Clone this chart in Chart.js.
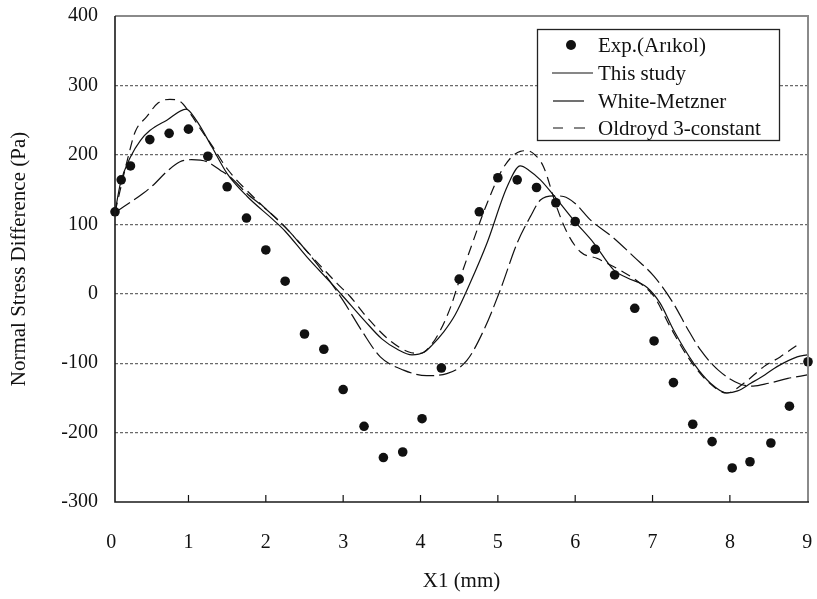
<!DOCTYPE html>
<html><head><meta charset="utf-8">
<script src="https://cdn.jsdelivr.net/npm/chart.js@4"></script>
<style>html,body{margin:0;padding:0;background:#fff}#wrap{width:817px;height:599px}</style>
</head><body><div id="wrap"><canvas id="c" width="817" height="599"></canvas></div>
<script>
// ---- data ----
const xTickValues = [0, 1, 2, 3, 4, 5, 6, 7, 8, 9];
const yTickMin = -300, yTickMax = 400, yTickStep = 100;
const xTitle = 'X1 (mm)';
const yTitle = 'Normal Stress Difference (Pa)';
const legendLabels = ['Exp.(Arıkol)', 'This study', 'White-Metzner', 'Oldroyd 3-constant'];

const expX = [0.05, 0.13, 0.25, 0.5, 0.75, 1.0, 1.25, 1.5, 1.75, 2.0, 2.25, 2.5, 2.75, 3.0, 3.27, 3.52, 3.77, 4.02, 4.27, 4.5, 4.76, 5.0, 5.25, 5.5, 5.75, 6.0, 6.26, 6.51, 6.77, 7.02, 7.27, 7.52, 7.77, 8.03, 8.26, 8.53, 8.77, 9.01];
const expY = [118, 164, 184, 222, 231, 237, 198, 154, 109, 63, 18, -58, -80, -138, -191, -236, -228, -180, -107, 21, 118, 167, 164, 153, 131, 104, 64, 27, -21, -68, -128, -188, -213, -251, -242, -215, -162, -98];

const studyX = [0.05, 0.12, 0.25, 0.38, 0.5, 0.72, 0.97, 1.1, 1.3, 1.5, 1.76, 2.1, 2.25, 2.53, 2.83, 3.0, 3.27, 3.5, 3.7, 3.89, 4.05, 4.15, 4.3, 4.45, 4.64, 4.86, 5.12, 5.29, 5.4, 5.55, 5.72, 5.98, 6.24, 6.5, 6.67, 6.93, 7.1, 7.27, 7.53, 7.75, 7.96, 8.1, 8.27, 8.45, 8.61, 8.87, 9.0];
const studyY = [117, 159, 197, 221, 235, 250, 266, 250, 212, 173, 140, 106, 90, 53, 17, -4, -38, -65, -80, -88, -84, -74, -55, -30, 15, 73, 154, 184, 178, 164, 142, 106, 73, 34, 23, 9, -14, -52, -100, -129, -143, -140, -129, -117, -105, -91, -88];

const wmX = [0.05, 0.2, 0.42, 0.55, 0.72, 0.89, 1.04, 1.24, 1.41, 1.54, 1.75, 2.0, 2.25, 2.5, 2.75, 3.0, 3.25, 3.48, 3.78, 4.08, 4.34, 4.6, 4.82, 5.03, 5.25, 5.42, 5.55, 5.72, 5.85, 6.0, 6.2, 6.5, 6.76, 7.02, 7.27, 7.45, 7.62, 7.85, 8.13, 8.3, 8.5, 8.75, 9.0];
const wmY = [117, 128, 145, 157, 176, 190, 193, 190, 178, 168, 145, 122, 96, 65, 30, -10, -55, -91, -110, -118, -115, -96, -52, 5, 73, 111, 135, 141, 140, 130, 106, 80, 53, 25, -14, -50, -81, -110, -130, -133, -129, -122, -117];

const oldX = [0.05, 0.15, 0.22, 0.31, 0.46, 0.61, 0.76, 0.89, 1.02, 1.15, 1.3, 1.5, 1.86, 2.25, 2.5, 2.92, 3.09, 3.3, 3.6, 3.85, 4.0, 4.15, 4.26, 4.39, 4.49, 4.64, 4.86, 5.08, 5.29, 5.38, 5.48, 5.59, 5.76, 5.9, 6.07, 6.28, 6.41, 6.58, 6.84, 7.02, 7.23, 7.45, 7.7, 7.96, 8.18, 8.44, 8.65, 8.87];
const oldY = [117, 165, 197, 233, 255, 275, 280, 277, 260, 238, 214, 180, 137, 96, 65, 15, -4, -33, -67, -84, -86, -72, -52, -19, 15, 63, 130, 183, 205, 206, 200, 183, 125, 87, 60, 51, 44, 34, 15, -4, -48, -90, -125, -143, -129, -105, -91, -74];

const toPts = (xs, ys) => xs.map((x, i) => ({x: x, y: ys[i]}));

const FONT = "'Liberation Serif','Times New Roman',serif";
Chart.defaults.font.family = FONT;
Chart.defaults.color = '#000';

const DASH_OLD = [10, 6];
const DASH_WM = [18, 5];

const framePlugin = {
  id: 'frame',
  afterDatasetsDraw(chart) {
    const {ctx, chartArea: a} = chart;
    const xs = chart.scales.x;
    ctx.save();
    // inner tick marks on the x axis
    ctx.strokeStyle = '#111';
    ctx.lineWidth = 1.2;
    xs.ticks.forEach(t => {
      const px = xs.getPixelForValue(t.value);
      if (px < a.left + 2 || px > a.right - 2) return;
      ctx.beginPath(); ctx.moveTo(px, a.bottom); ctx.lineTo(px, a.bottom - 7); ctx.stroke();
    });
    // frame
    ctx.strokeStyle = '#8a8a8a';
    ctx.lineWidth = 2;
    ctx.beginPath(); ctx.moveTo(a.left, a.top); ctx.lineTo(a.right, a.top); ctx.lineTo(a.right, a.bottom); ctx.stroke();
    ctx.strokeStyle = '#1a1a1a';
    ctx.lineWidth = 1.6;
    ctx.beginPath(); ctx.moveTo(a.left, a.top); ctx.lineTo(a.left, a.bottom); ctx.lineTo(a.right + 1, a.bottom); ctx.stroke();

    // legend
    const L = 537, T = 29, R = 779, B = 140;
    ctx.fillStyle = '#fff';
    ctx.fillRect(L, T, R - L, B - T);
    ctx.strokeStyle = '#222';
    ctx.lineWidth = 1.3;
    ctx.strokeRect(L + 0.5, T + 0.5, R - L, B - T);
    const rows = [45, 73, 101, 128];
    ctx.font = '21px ' + FONT;
    ctx.fillStyle = '#111';
    ctx.textBaseline = 'middle';
    ctx.textAlign = 'left';
    legendLabels.forEach((lab, i) => ctx.fillText(lab, 598, rows[i] + 1));
    ctx.beginPath(); ctx.arc(571, rows[0], 5, 0, Math.PI * 2); ctx.fill();
    ctx.strokeStyle = '#111'; ctx.lineWidth = 1.2;
    ctx.beginPath(); ctx.moveTo(552, rows[1]); ctx.lineTo(593, rows[1]); ctx.stroke();
    ctx.beginPath(); ctx.moveTo(553, rows[2]); ctx.lineTo(584, rows[2]); ctx.stroke();
    ctx.beginPath(); ctx.moveTo(553, rows[3]); ctx.lineTo(563, rows[3]); ctx.moveTo(574, rows[3]); ctx.lineTo(585, rows[3]); ctx.stroke();
    ctx.restore();
  }
};

const lineCommon = {
  type: 'line', showLine: true, pointRadius: 0, borderColor: '#111', borderWidth: 1.2,
  fill: false, cubicInterpolationMode: 'monotone'
};

new Chart(document.getElementById('c'), {
  type: 'scatter',
  data: {
    datasets: [
      Object.assign({}, lineCommon, {label: legendLabels[1], data: toPts(studyX, studyY)}),
      Object.assign({}, lineCommon, {label: legendLabels[2], data: toPts(wmX, wmY), borderDash: DASH_WM}),
      Object.assign({}, lineCommon, {label: legendLabels[3], data: toPts(oldX, oldY), borderDash: DASH_OLD}),
      {label: legendLabels[0], type: 'scatter', data: toPts(expX, expY), showLine: false,
       pointRadius: 4.8, pointBackgroundColor: '#111', pointBorderColor: '#111', pointBorderWidth: 0, clip: false}
    ]
  },
  options: {
    responsive: false, animation: false, devicePixelRatio: 1,
    layout: {padding: {left: 0, right: 9, top: 16, bottom: 0}},
    plugins: {legend: {display: false}, tooltip: {enabled: false}},
    scales: {
      x: {
        type: 'linear', min: 0.05, max: 9.01,
        afterBuildTicks(scale) { scale.ticks = xTickValues.map(v => ({value: v})); },
        afterFit(scale) { scale.height = 97; scale.paddingLeft = 0; scale.paddingRight = 0; },
        grid: {display: false},
        border: {display: false},
        ticks: {autoSkip: false, maxRotation: 0, padding: 21, font: {size: 20}, color: '#111'},
        title: {display: true, text: xTitle, font: {size: 21}, color: '#111', padding: {top: 0, bottom: 5}}
      },
      y: {
        type: 'linear', min: yTickMin, max: yTickMax,
        afterFit(scale) { scale.width = 115; scale.paddingTop = 0; scale.paddingBottom = 0; },
        grid: {
          drawTicks: false, lineWidth: 1.2,
          color: c => (c.tick && (c.tick.value === yTickMax || c.tick.value === yTickMin)) ? 'rgba(0,0,0,0)' : '#6a6a6a'
        },
        border: {display: false, dash: [3, 2]},
        ticks: {stepSize: yTickStep, padding: 17, font: {size: 20}, color: '#111'},
        title: {display: true, text: yTitle, font: {size: 21}, color: '#111', padding: {top: 7, bottom: 0}}
      }
    }
  },
  plugins: [framePlugin]
});
</script></body></html>
